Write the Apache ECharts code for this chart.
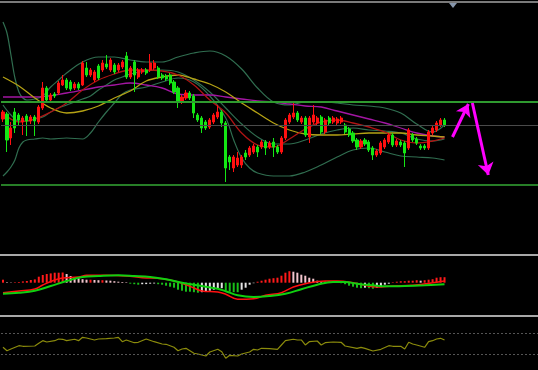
<!DOCTYPE html>
<html><head><meta charset="utf-8">
<script src="https://cdn.jsdelivr.net/npm/echarts@6/dist/echarts.min.js"></script>
<style>html,body{margin:0;padding:0;background:#000;overflow:hidden}#c{width:538px;height:370px}</style>
</head><body><div id="c"></div>
<script>
// slots on the time axis (right part left empty for the projection arrows)
const SLOT_COUNT = 135;
const categories = Array.from({length: SLOT_COUNT}, (_, i) => 'K' + (i + 1));

// candles: [open, close, low, high]
const candles = [
[131,138,128,140],[136,110,98,138],[112,122,105,128],[138,122,117,142],[135,130,125,137],
[128,132,115,134],[134,129,114,136],[129,133,126,135],[133,129,114,135],[128,143,126,145],
[142,162,140,168],[162,150,148,164],[150,155,149,157],[156,154,152,158],[157,167,155,169],
[165,170,164,175],[170,162,160,172],[168,161,159,170],[162,166,160,168],[166,162,160,168],
[165,187,164,189],[182,175,173,188],[175,180,173,182],[170,178,168,180],[184,172,170,186],
[180,187,178,190],[186,183,181,195],[180,190,178,192],[185,178,176,187],[180,185,178,187],
[183,188,181,190],[194,173,171,198],[173,182,171,184],[188,175,158,190],[173,180,171,182],
[178,180,176,182],[180,177,175,182],[180,187,178,196],[182,187,180,190],[182,173,171,184],
[175,172,170,177],[174,171,169,176],[175,167,165,177],[168,158,156,170],[162,148,142,164],
[148,153,146,155],[152,157,150,160],[157,152,150,159],[154,137,132,156],[135,130,128,137],
[132,122,117,134],[128,122,120,130],[123,130,121,132],[128,135,126,137],[133,138,131,145],
[138,127,123,140],[127,82,68,129],[93,88,80,95],[82,93,78,95],[85,92,83,98],
[85,93,82,95],[97,93,90,100],[95,102,93,104],[98,104,96,106],[103,98,93,105],
[103,108,101,110],[108,102,95,110],[103,107,101,109],[108,103,93,112],[103,98,96,105],
[98,112,96,114],[112,130,110,132],[128,135,126,137],[133,137,131,147],[137,130,128,139],
[128,132,126,134],[132,115,113,134],[113,132,107,134],[128,135,126,145],[127,132,125,134],
[133,118,116,135],[118,130,116,132],[132,127,125,134],[128,132,126,134],[127,131,125,133],
[128,132,126,134],[125,118,116,127],[121,115,113,123],[117,109,107,119],[110,103,100,112],
[103,109,101,111],[110,106,104,112],[108,100,98,110],[102,95,90,104],[95,99,93,101],
[97,107,95,109],[103,110,101,112],[108,115,106,117],[115,105,103,117],[105,109,103,111],
[108,105,103,110],[107,97,83,109],[102,120,100,122],[115,110,108,117],[111,107,105,113],
[104,102,100,106],[104,102,100,106],[102,118,100,120],[117,122,115,124],[120,127,118,129],
[125,130,123,132],[130,125,123,132]
];

// indicator lines: [slot index, value]
const bbUpper = [[0,228],[1,217],[2,195],[3,172],[4,158],[5,152],[6,150],[8,151],[10,154],[12,163],[14,170],[16,177],[20,188],[24,193],[28,193],[32,190],[36,188],[40,188],[44,193],[48,197],[52,199],[56,194],[60,181],[64,162],[68,148],[72,145],[76,148],[80,148],[84,147],[88,145],[92,144],[96,142],[100,137],[104,126],[108,118],[111,125]];
const bbMid = [[0,145],[2,135],[4,129],[6,129],[8,131],[10,133],[12,138],[14,142],[16,145],[18,148],[20,151],[22,154],[24,160],[26,165],[28,170],[30,173],[32,176],[36,179],[40,180],[44,178],[48,170],[52,158],[56,142],[60,126],[64,113],[68,106],[72,106],[76,110],[80,116],[84,120],[88,122],[92,120],[96,119],[100,117],[104,111],[108,109],[111,111]];
const bbLower = [[0,74],[1,78],[2,83],[3,90],[4,102],[5,108],[6,110],[8,111],[10,112],[12,111],[16,112],[20,111],[22,117],[24,128],[26,138],[28,147],[30,156],[32,160],[36,163],[40,168],[44,172],[48,168],[52,154],[56,132],[58,110],[60,92],[62,82],[64,77],[68,74],[72,74],[76,78],[80,85],[84,93],[88,100],[92,102],[96,98],[100,94],[104,93],[108,92],[111,90]];
const maRed = [[0,137],[4,128],[8,131],[12,138],[16,147],[20,160],[24,170],[28,176],[32,180],[36,180],[40,179],[44,175],[48,165],[52,150],[56,137],[60,117],[64,105],[68,103],[72,111],[76,121],[80,128],[84,130],[88,127],[92,123],[96,118],[100,110],[104,107],[108,109],[111,112]];
const maYellow = [[0,173],[4,164],[8,152],[12,142],[16,137],[20,139],[24,144],[28,152],[32,159],[36,169],[40,173],[44,175],[48,171],[52,166],[56,158],[60,147],[64,137],[68,127],[72,120],[76,116],[80,115],[84,115],[88,116],[92,117],[96,117],[100,117],[104,115],[108,114],[111,113]];
const maMagenta = [[0,153],[8,153],[16,157],[24,163],[28,165],[32,167],[36,165],[40,162],[44,156],[48,155],[52,155],[56,153],[60,151],[64,149],[68,148],[72,146],[76,144],[80,143],[84,139],[88,135],[92,131],[96,127],[100,122],[104,117],[108,114],[111,113]];

// price levels
const levelUpper = 148.5, levelMid = 125, levelLower = 65;
// projected path: [slot, price]
const projUp = [[113,113],[117,146]];
const projDown = [[118,147],[122,75]];

// MACD
const macdHist = [3,0.5,0.3,0.5,0.7,1.3,1.7,2.7,3.3,6,7.7,8.7,9.3,10,10,10.2,8.7,6.7,5.5,4.5,
3.5,3,3,2.7,2.5,2.5,2.2,2,1.5,1,0.7,0.5,-1,-1.5,-2,-1.5,-1.4,-1,-0.8,-1.5,
-2,-3,-4,-5,-7,-8,-9,-9,-9.5,-10,-9.5,-9,-8,-7,-6,-5.5,-8,-9,-9.5,-9.5,
-7,-5,-2,-0.5,1,2,3,4,4.5,5,7,10,11.5,11,10,8,7,5,4,2,
1.5,1,1.5,1,0.5,-0.5,-1.5,-3,-4,-5,-5.5,-5,-5.5,-6,-5,-4,-2,-1,0.5,1,
1.5,1.5,2,2,2.5,2,2.5,3,3.5,5,5.5,5.5];
const macdDif = [[0,-10],[4,-8.3],[8,-6.3],[10,-2.3],[13,2.7],[15,4.7],[19,5.7],[21,7.4],[26,7.4],[31,6.7],[35,5],[40,4],[44,0.7],[48,-5.3],[50,-8.3],[54,-9.3],[56,-11.5],[59,-16.6],[63,-16],[66,-12.6],[70,-10],[73,-4.3],[76,-1],[81,1.7],[84,1.7],[88,0],[91,-2.6],[94,-4.3],[98,-3.3],[103,-2.6],[108,0],[111,1.7]];
const macdDea = [[0,-11],[4,-10],[8,-8],[12,-3.3],[16,1.7],[20,5.7],[24,6.7],[29,7.4],[33,6.7],[37,5.7],[41,3.4],[45,0],[50,-3.3],[54,-6],[56,-8.5],[59,-12.6],[63,-14.3],[67,-13.3],[71,-11],[75,-6.6],[79,-2],[83,0.7],[86,0.7],[89,-1],[93,-2.6],[96,-3.6],[101,-3.3],[106,-2.6],[111,-1.6]];

// lower oscillator and its guide levels
const osc = [[0,40],[1,30.3],[2,35.1],[4,44.6],[5,42.9],[8,43.7],[9,51.4],[10,58.9],[11,55.1],[13,58.9],[14,63.7],[15,62.9],[16,58.9],[18,62.9],[19,58.9],[20,68.6],[21,66.6],[23,60.9],[24,63.7],[26,64.6],[28,66.6],[29,68.6],[30,56],[31,60.9],[33,53.1],[34,54.3],[36,63.7],[38,56],[40,49.4],[41,48.6],[43,40],[44,30.3],[45,35.1],[46,37.1],[48,22.9],[49,20.9],[51,15.1],[52,26.6],[54,34.3],[55,27.4],[56,8.6],[57,17.1],[59,15.1],[60,20.9],[62,26.6],[63,34.3],[64,32.3],[65,37.1],[67,36],[69,34.3],[70,46.6],[71,58.9],[73,62.9],[74,60.9],[75,60.9],[76,46.6],[77,56],[79,58],[80,46.6],[81,53.1],[83,55.1],[85,54.3],[86,43.7],[89,37.1],[90,40],[91,37.1],[93,29.4],[95,34.3],[97,44.6],[98,42.9],[100,42.9],[101,35.1],[102,54.3],[103,49.4],[104,46.6],[106,40],[107,56],[108,58.9],[109,63.7],[110,65.7],[111,60.9]];
const oscLevels = [20, 80];

const chart = echarts.init(document.getElementById('c'), null, {renderer: 'canvas'});
const hiddenX = i => ({type:'category', gridIndex:i, data:categories, boundaryGap:true, show:false});
const hiddenY = (i, min, max) => ({type:'value', gridIndex:i, min:min, max:max, show:false, splitLine:{show:false}});
const line = (data, color, width, xi, smooth) => ({
  type:'line', xAxisIndex:xi, yAxisIndex:xi, data:data, showSymbol:false, symbol:'none',
  smooth:smooth, lineStyle:{color:color, width:width}, silent:true, z:3
});

const histData = macdHist.map((v, i) => {
  const prev = i > 0 ? macdHist[i - 1] : v;
  let c;
  if (v >= 0) c = v >= prev ? '#ff1a1a' : '#f2c4cc';
  else c = v <= prev ? '#19c019' : '#e6e6e6';
  return {value: v, itemStyle: {color: c}};
});

chart.setOption({
  backgroundColor: '#000000',
  animation: false,
  grid: [
    {left:1, right:0, top:0, height:250},
    {left:1, right:0, top:257, height:57},
    {left:1, right:0, top:320, height:45}
  ],
  xAxis: [hiddenX(0), hiddenX(1), hiddenX(2)],
  yAxis: [hiddenY(0, 0, 250), hiddenY(1, -31.3, 25.7), hiddenY(2, -10.6, 118)],
  graphic: [
    {type:'rect', shape:{x:0, y:1, width:538, height:2}, style:{fill:'#7a7a7a'}, silent:true},
    {type:'rect', shape:{x:0, y:254, width:538, height:2}, style:{fill:'#a8a8a8'}, silent:true},
    {type:'rect', shape:{x:0, y:315, width:538, height:2}, style:{fill:'#a8a8a8'}, silent:true},
    {type:'polygon', shape:{points:[[449,3],[457,3],[453,8]]}, style:{fill:'#8796ab'}, silent:true}
  ],
  series: [
    line(bbUpper, '#306e50', 1.2, 0, 0.35),
    line(bbMid, '#306e50', 1.2, 0, 0.35),
    line(bbLower, '#306e50', 1.2, 0, 0.35),
    line(maMagenta, '#a316a3', 1.3, 0, 0.35),
    line(maYellow, '#b5a214', 1.3, 0, 0.35),
    line(maRed, '#b01414', 1.3, 0, 0.35),
    {
      type:'candlestick', xAxisIndex:0, yAxisIndex:0, data:candles, barWidth:2.6, z:4, silent:true,
      itemStyle:{color:'#ff1010', color0:'#14e614', borderColor:'#ff1010', borderColor0:'#14e614', borderWidth:1},
      markLine:{
        silent:true, symbol:'none', label:{show:false},
        data:[
          {yAxis:levelUpper, lineStyle:{color:'#2f9a2f', width:2, type:'solid'}},
          {yAxis:levelMid, lineStyle:{color:'#4a4a4a', width:1, type:'solid'}},
          {yAxis:levelLower, lineStyle:{color:'#34a834', width:1.5, type:'solid'}}
        ]
      }
    },
    {
      type:'line', xAxisIndex:0, yAxisIndex:0, data:[], silent:true,
      markLine:{
        silent:true, label:{show:false}, symbolSize:12,
        lineStyle:{color:'#ff00ff', width:3, type:'solid'},
        data:[
          [{coord:projUp[0], symbol:'none'}, {coord:projUp[1], symbol:'arrow'}],
          [{coord:projDown[0], symbol:'none'}, {coord:projDown[1], symbol:'arrow'}]
        ]
      }
    },
    {type:'bar', xAxisIndex:1, yAxisIndex:1, data:histData, barWidth:2, silent:true, z:2},
    line(macdDif, '#ff1010', 1.5, 1, 0.4),
    line(macdDea, '#10d010', 2, 1, 0.4),
    {
      type:'line', xAxisIndex:2, yAxisIndex:2, data:osc, symbol:'none', showSymbol:false, silent:true,
      lineStyle:{color:'#8c8c0c', width:1.2},
      markLine:{
        silent:true, symbol:'none', label:{show:false},
        lineStyle:{color:'#555555', width:1, type:[2,2]},
        data: oscLevels.map(v => ({yAxis:v}))
      }
    }
  ]
});
</script>
</body></html>
